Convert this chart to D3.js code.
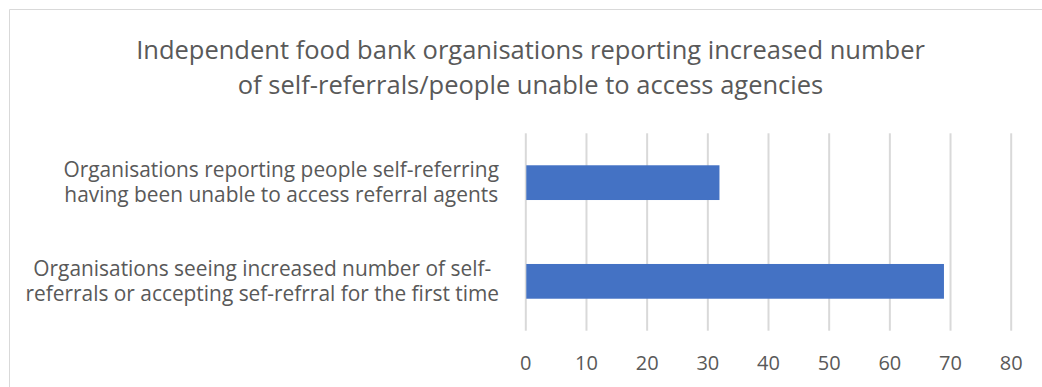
<!DOCTYPE html>
<html>
<head>
<meta charset="utf-8">
<script src="https://cdn.jsdelivr.net/npm/d3@7"></script>
<style>
  html, body { margin: 0; padding: 0; background: #fff; }
  svg { display: block; }
  text { font-family: "Open Sans", Lato, sans-serif; fill: #595959; }
</style>
</head>
<body>
<svg id="chart" width="1042" height="387"></svg>
<script>
// Chart title, one entry per line
const titleLines = [
  "Independent food bank organisations reporting increased number",
  "of self-referrals/people unable to access agencies"
];

// Category labels (each split into its display lines), top to bottom
const categories = [
  ["Organisations reporting people self-referring", "having been unable to access referral agents"],
  ["Organisations seeing increased number of self-", "referrals or accepting sef-refrral for the first time"]
];

// Number of organisations per category
const values = [32, 69];

// Value axis
const xDomain = [0, 80];
const xTicks = [0, 10, 20, 30, 40, 50, 60, 70, 80];

const svg = d3.select("#chart");
const W = 1042, H = 387;
const FONT = "'Open Sans', Lato, sans-serif";

// Plot area
const plot = { left: 525.3, right: 1010.7, top: 133.3, bottom: 330.7 };

const keys = categories.map(c => c.join(" "));

const x = d3.scaleLinear().domain(xDomain).range([plot.left, plot.right]);
const y = d3.scaleBand()
  .domain(keys)
  .range([plot.top, plot.bottom])
  .paddingInner(0.648)
  .paddingOuter(0.324);

// Fit a text selection to a target width by scaling its font size
function fitWidth(sel, baseSize, widest) {
  let maxW = 0;
  sel.attr("font-size", baseSize)
     .each(function () { maxW = Math.max(maxW, this.getComputedTextLength()); });
  const size = baseSize * widest / maxW;
  sel.attr("font-size", size);
  return size;
}

// Chart frame
svg.append("line")
  .attr("x1", 9.5).attr("y1", 9.5).attr("x2", W).attr("y2", 9.5)
  .attr("stroke", "#d9d9d9").attr("stroke-width", 1);
svg.append("line")
  .attr("x1", 9.5).attr("y1", 9.5).attr("x2", 9.5).attr("y2", H)
  .attr("stroke", "#d9d9d9").attr("stroke-width", 1);

// Title
const title = svg.append("g").selectAll("text")
  .data(titleLines)
  .join("text")
  .attr("x", 530.5)
  .attr("y", (d, i) => 59 + i * 35)
  .attr("text-anchor", "middle")
  .text(d => d);
fitWidth(title, 24, 789);

// Vertical gridlines
const grid = svg.append("g")
  .attr("transform", `translate(0,${plot.bottom})`)
  .call(d3.axisBottom(x).tickValues(xTicks).tickSize(-(plot.bottom - plot.top)).tickFormat(""));
grid.select(".domain").remove();
grid.selectAll(".tick line").attr("stroke", "#d9d9d9").attr("stroke-width", 2);

// Tick labels
const axis = svg.append("g")
  .attr("transform", `translate(0,${plot.bottom})`)
  .call(d3.axisBottom(x).tickValues(xTicks).tickSize(0).tickPadding(25));
axis.select(".domain").remove();
axis.selectAll(".tick text")
  .attr("font-family", FONT)
  .attr("font-size", 20)
  .attr("fill", "#595959");

// Bars
svg.append("g").selectAll("rect")
  .data(values)
  .join("rect")
  .attr("x", x(0) + 1)
  .attr("y", (d, i) => y(keys[i]))
  .attr("width", d => x(d) - x(0) - 1)
  .attr("height", y.bandwidth())
  .attr("fill", "#4472C4");

// Category labels: lines centred on each other, block right-aligned beside the axis
const labelRight = 499;
const lineGap = 25.5;
const labelGroups = categories.map((lines, i) => {
  const cy = y(keys[i]) + y.bandwidth() / 2;
  return svg.append("g").selectAll("text")
    .data(lines)
    .join("text")
    .attr("text-anchor", "middle")
    .attr("y", (d, j) => cy + (j - (lines.length - 1) / 2) * lineGap + 7)
    .text(d => d);
});
const labelSize = fitWidth(labelGroups[1], 19, 474);
labelGroups.forEach(texts => {
  texts.attr("font-size", labelSize);
  let maxW = 0;
  texts.each(function () { maxW = Math.max(maxW, this.getComputedTextLength()); });
  texts.attr("x", labelRight - maxW / 2);
});
</script>
</body>
</html>
